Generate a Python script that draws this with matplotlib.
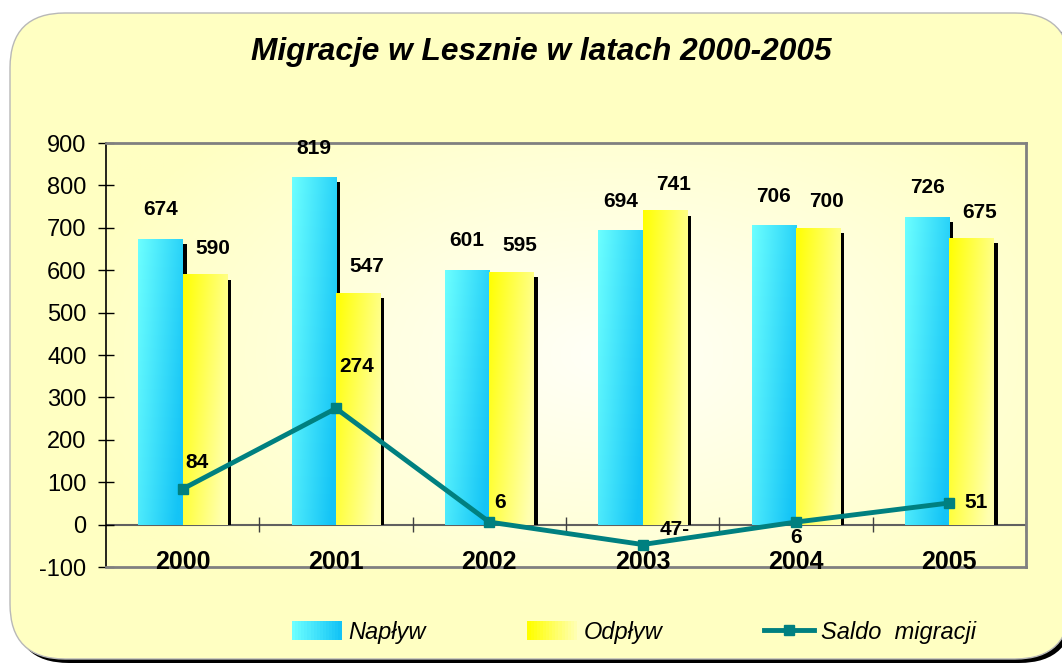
import numpy as np
import matplotlib
matplotlib.use("Agg")
import matplotlib.pyplot as plt
from matplotlib.colors import to_rgb
from matplotlib.patches import FancyBboxPatch, Patch, Rectangle
from matplotlib.lines import Line2D
from matplotlib.legend_handler import HandlerBase

plt.rcParams['font.family'] = ['Liberation Sans', 'DejaVu Sans']

# data
years = ['2000', '2001', '2002', '2003', '2004', '2005']
naplyw = [674, 819, 601, 694, 706, 726]
odplyw = [590, 547, 595, 741, 700, 675]
saldo = [84, 274, 6, -47, 6, 51]
saldo_labels = ['84', '274', '6', '47-', '6', '51']
yticks = [-100, 0, 100, 200, 300, 400, 500, 600, 700, 800, 900]

TEAL = '#008080'
NAP_COLS = ('#6CFFFF', '#14C4F6')
ODP_COLS = ('#FFFF00', '#FFFFB0')


def gradient(c0, c1, wx, wy, n=80):
    # diagonal gradient, c0 at top-left, c1 towards bottom-right
    xs = np.linspace(0, 1, n)
    X, Y = np.meshgrid(xs, xs)
    t = np.clip(wx * X + wy * Y, 0, 1)[..., None]
    return np.array(to_rgb(c0)) * (1 - t) + np.array(to_rgb(c1)) * t


class GradHandler(HandlerBase):
    # legend key drawn as thin strips going from one colour to the other
    def __init__(self, c0, c1, steps=16):
        super().__init__()
        self.c0, self.c1, self.steps = np.array(to_rgb(c0)), np.array(to_rgb(c1)), steps

    def create_artists(self, legend, orig_handle, xdescent, ydescent, width, height,
                       fontsize, trans):
        arts = []
        sw = width / self.steps
        for k in range(self.steps):
            t = k / (self.steps - 1)
            arts.append(Rectangle((-xdescent + k * sw, -ydescent), sw * 1.05, height,
                                  facecolor=self.c0 * (1 - t) + self.c1 * t,
                                  edgecolor='none', transform=trans))
        return arts


fig = plt.figure(figsize=(10.62, 6.64), dpi=100)
fig.patch.set_facecolor('white')

# rounded yellow background with dark shadow (pixel coords), right side runs off the image
shadow = FancyBboxPatch((14, 1), 1060, 646, boxstyle="round,pad=0,rounding_size=55",
                        transform=None, facecolor='black', edgecolor='none', zorder=-3)
box = FancyBboxPatch((10, 5), 1060, 646, boxstyle="round,pad=0,rounding_size=55",
                     transform=None, facecolor='#FFFFC2', edgecolor='#B8B8B8', lw=1, zorder=-2)
fig.patches.extend([shadow, box])

ax = fig.add_axes([106 / 1062, 97 / 664, 920 / 1062, 424 / 664])
ax.set_facecolor('none')

# radial light background of plot area
n = 200
gx, gy = np.meshgrid(np.linspace(0, 1, n), np.linspace(0, 1, n))
r = np.clip(np.sqrt(((gx - 0.55) / 0.6) ** 2 + ((gy - 0.5) / 0.75) ** 2), 0, 1)[..., None]
bg = np.array(to_rgb('#FFFFF8')) * (1 - r) + np.array(to_rgb('#FFFFC2')) * r
ax.imshow(bg, extent=(0, 1, 0, 1), transform=ax.transAxes, aspect='auto', zorder=0)

x = np.arange(len(years))
w = 0.29
nap_img = gradient(*NAP_COLS, 0.75, 0.35)
odp_img = gradient(*ODP_COLS, 0.75, 0.35)

ax.axhline(0, color='#606060', lw=1.5, zorder=1)
ax.vlines(np.arange(1, len(years) + 1) - 0.5, -18, 18, color='#404040', lw=1, zorder=1)

for i in range(len(years)):
    ax.imshow(nap_img, extent=(x[i] - w, x[i], 0, naplyw[i]), aspect='auto', zorder=2)
    ax.bar(x[i] + w + 0.0125, odplyw[i] - 12, width=0.025, bottom=0, color='black', zorder=2)
    ax.bar(x[i] + 0.0125, naplyw[i] - 12, width=0.025, color='black', zorder=1.8)
    ax.imshow(odp_img, extent=(x[i], x[i] + w, 0, odplyw[i]), aspect='auto', zorder=2.2)
    ax.annotate(str(naplyw[i]), (x[i] - w / 2, naplyw[i]), xytext=(0, 21),
                textcoords='offset points', ha='center', va='center',
                fontsize=15, fontweight='bold')
    ax.annotate(str(odplyw[i]), (x[i] + w / 2, odplyw[i]), xytext=(6, 19),
                textcoords='offset points', ha='center', va='center',
                fontsize=15, fontweight='bold')
    ax.text(x[i], -88, years[i], ha='center', va='center', fontsize=18, fontweight='bold')

ax.plot(x, saldo, color=TEAL, lw=3.5, marker='s', ms=7.5, zorder=4)
saldo_off = [(10, 19), (15, 30), (8, 14), (23, 11), (0, -11), (19, 0)]
for i in range(len(years)):
    ax.annotate(saldo_labels[i], (x[i], saldo[i]), xytext=saldo_off[i],
                textcoords='offset points', ha='center', va='center',
                fontsize=15, fontweight='bold', zorder=5)

ax.set_xlim(-0.5, len(years) - 0.5)
ax.set_ylim(-100, 900)
ax.set_yticks(yticks)
ax.set_yticklabels([str(v) for v in yticks])
ax.set_xticks([])
ax.tick_params(axis='y', direction='inout', length=12, width=1, pad=8, labelsize=17)
ax.spines['left'].set_color('black')
ax.spines['left'].set_linewidth(1.2)
for s in ['top', 'right', 'bottom']:
    ax.spines[s].set_color('#808080')
    ax.spines[s].set_linewidth(2)

fig.text(541 / 1062, 1 - 52 / 664, 'Migracje w Lesznie w latach 2000-2005',
         ha='center', va='center', fontsize=22.8, fontweight='bold', fontstyle='italic')

h_nap = Patch(facecolor=NAP_COLS[1])
h_odp = Patch(facecolor=ODP_COLS[0])
h_sal = Line2D([], [], color=TEAL, lw=3.5, marker='s', ms=7.5)
fig.legend([h_nap, h_odp, h_sal], ['Napływ', 'Odpływ', 'Saldo  migracji'], loc='center',
           bbox_to_anchor=(634 / 1062, 32 / 664), ncol=3, frameon=False,
           prop={'size': 17, 'style': 'italic'}, handlelength=2.1, handleheight=0.9,
           handletextpad=0.3, columnspacing=4.3,
           handler_map={h_nap: GradHandler(*NAP_COLS), h_odp: GradHandler(*ODP_COLS)})

fig.savefig('out.png', dpi=100)
